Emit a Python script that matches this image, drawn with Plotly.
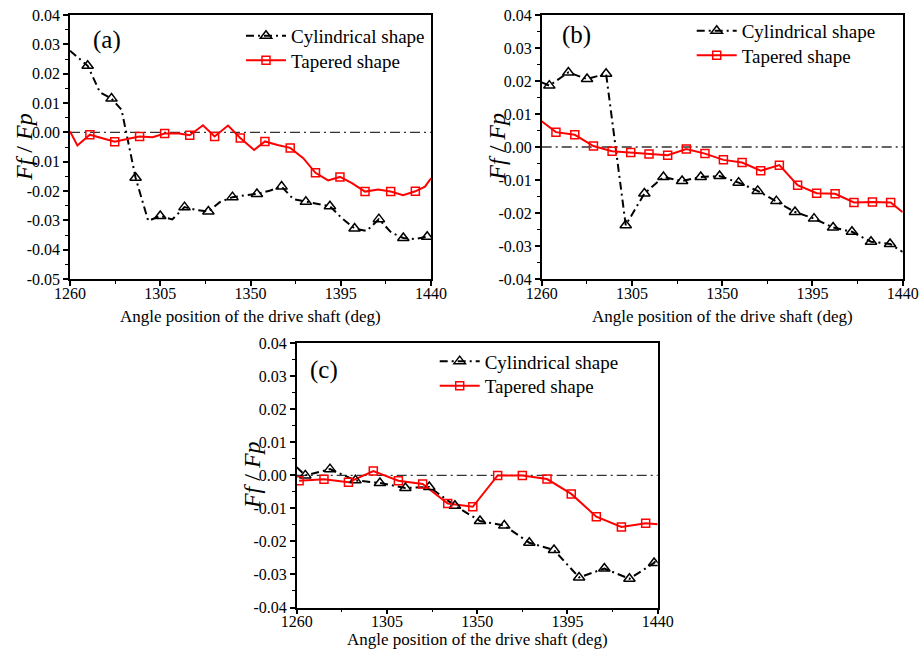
import plotly.graph_objects as go

# ---------------- data ----------------
# Panel (a)
a_cyl_x = [1260, 1268.8, 1274.9, 1280.7, 1285.7, 1292.7, 1299.0, 1305.0, 1311.0, 1317.1,
           1323.1, 1329.0, 1334.7, 1341.0, 1347.2, 1353.2, 1359.5, 1365.5, 1371.4, 1377.6,
           1383.8, 1389.6, 1395.6, 1401.9, 1407.9, 1414.0, 1420.2, 1426.2, 1432.0, 1438.1]
a_cyl_y = [0.0278, 0.0227, 0.0137, 0.0115, 0.0077, -0.0155, -0.0302, -0.0285, -0.0297, -0.0255,
           -0.0265, -0.0270, -0.0238, -0.0221, -0.0215, -0.0210, -0.0199, -0.0185, -0.0228, -0.0237,
           -0.0244, -0.0252, -0.0293, -0.0328, -0.0336, -0.0296, -0.0342, -0.0360, -0.0364, -0.0356]
a_tap_x = [1260, 1263.7, 1269.9, 1276.1, 1282.3, 1288.5, 1294.7, 1301.2, 1307.2, 1313.5,
           1319.7, 1326.3, 1332.1, 1338.8, 1344.9, 1351.8, 1357.2, 1363.5, 1369.8, 1376.3,
           1382.4, 1388.7, 1394.6, 1400.6, 1407.1, 1413.6, 1419.9, 1426.1, 1432.2, 1437.0, 1440]
a_tap_y = [0.0003, -0.0045, -0.0008, -0.0020, -0.0032, -0.0023, -0.0014, -0.0017, -0.0004, -0.0003,
           -0.0010, 0.0024, -0.0014, 0.0023, -0.0019, -0.0060, -0.0031, -0.0043, -0.0053, -0.0088,
           -0.0138, -0.0164, -0.0152, -0.0173, -0.0202, -0.0195, -0.0202, -0.0214, -0.0201, -0.0185, -0.0157]

# Panel (b)
b_cyl_x = [1260, 1263.8, 1273.3, 1282.6, 1292.1, 1301.9, 1311.2, 1320.7, 1330.0, 1339.3, 1348.7,
           1358.2, 1367.7, 1377.0, 1386.3, 1395.8, 1405.3, 1414.7, 1424.2, 1433.7, 1440]
b_cyl_y = [0.0196, 0.0186, 0.0226, 0.0206, 0.0222, -0.0237, -0.0141, -0.0091, -0.0103, -0.0091, -0.0088,
           -0.0108, -0.0133, -0.0164, -0.0197, -0.0217, -0.0244, -0.0257, -0.0287, -0.0294, -0.0318]
b_tap_x = [1260, 1267.1, 1276.5, 1285.8, 1295.1, 1304.4, 1313.5, 1322.8, 1332.1, 1341.4, 1350.6,
           1359.9, 1369.2, 1378.5, 1387.6, 1397.1, 1406.3, 1415.7, 1424.9, 1434.0, 1440]
b_tap_y = [0.0078, 0.0045, 0.0037, 0.0003, -0.0013, -0.0017, -0.0021, -0.0025, -0.0006, -0.0020, -0.0039,
           -0.0047, -0.0072, -0.0055, -0.0116, -0.0140, -0.0142, -0.0168, -0.0167, -0.0168, -0.0198]

# Panel (c)
c_cyl_x = [1260, 1264.3, 1276.6, 1289.3, 1301.5, 1314.2, 1326.1, 1338.9, 1351.4, 1363.5, 1376.0,
           1388.3, 1400.8, 1413.4, 1425.9, 1438.2, 1440]
c_cyl_y = [0.0025, 0.0000, 0.0019, -0.0015, -0.0023, -0.0038, -0.0035, -0.0092, -0.0138, -0.0152, -0.0204,
           -0.0226, -0.0309, -0.0282, -0.0313, -0.0265, -0.0250]
c_tap_x = [1261.2, 1273.6, 1285.8, 1298.2, 1310.7, 1322.8, 1335.3, 1347.8, 1360.2, 1372.5,
           1384.8, 1396.9, 1409.4, 1421.9, 1434.0, 1440]
c_tap_y = [-0.0016, -0.0012, -0.0021, 0.0013, -0.0016, -0.0026, -0.0085, -0.0095, 0.0000, 0.0000,
           -0.0011, -0.0056, -0.0125, -0.0156, -0.0145, -0.0148]

series_names = ["Cylindrical shape", "Tapered shape"]
panel_labels = ["(a)", "(b)", "(c)"]
x_title = "Angle position of the drive shaft (deg)"
y_title = "<i>Ff</i> / <i>Fp</i>"

y_ticks_a = [-0.05, -0.04, -0.03, -0.02, -0.01, 0.00, 0.01, 0.02, 0.03, 0.04]
y_ticks_bc = [-0.04, -0.03, -0.02, -0.01, 0.00, 0.01, 0.02, 0.03, 0.04]

# ---------------- styles ----------------
FONT = "Liberation Serif"
BLACK = "black"
RED = "#ff0000"
cyl_line = dict(color=BLACK, width=2, dash="8px,4px,2px,4px")
tap_line = dict(color=RED, width=2)
cyl_marker = dict(symbol="triangle-up-open", size=10, color=BLACK, line=dict(width=1.5, color=BLACK))
tap_marker = dict(symbol="square-open", size=8, color=RED, line=dict(width=1.5, color=RED))

panels = [
    dict(cx=a_cyl_x, cy=a_cyl_y, tx=a_tap_x, ty=a_tap_y,
         cm=slice(1, None, 2), tm=slice(2, 29, 2)),
    dict(cx=b_cyl_x, cy=b_cyl_y, tx=b_tap_x, ty=b_tap_y,
         cm=slice(1, -1), tm=slice(1, -1)),
    dict(cx=c_cyl_x, cy=c_cyl_y, tx=c_tap_x, ty=c_tap_y,
         cm=slice(1, -1), tm=slice(0, -1)),
]

W, H = 920, 650
# plot areas in pixels (left, top, right, bottom)
areas = [(70, 15, 431, 279), (541.7, 15, 902.7, 279), (296.7, 343.3, 657.7, 607.5)]
yranges = [(-0.05, 0.04), (-0.04, 0.04), (-0.04, 0.04)]
yticks = [y_ticks_a, y_ticks_bc, y_ticks_bc]
# per-panel placements in px relative to plot area (left/top)
label_pos = [(21, 25), (18.5, 20), (11.5, 27)]
legend_text_pos = [(222, 22), (201, 17), (189, 19)]   # text start x, first row centre y
legend_row_gap = 24.5
xtitle_off = [37, 37, 32]
ytitle_off = [-46, -45, -44]

fig = go.Figure()

for i, p in enumerate(panels):
    xa = "x" if i == 0 else f"x{i+1}"
    ya = "y" if i == 0 else f"y{i+1}"
    lg1 = "legend" if i == 0 else f"legend{2 * i + 1}"
    lg2 = f"legend{2 * i + 2}"
    fig.add_trace(go.Scatter(x=p["cx"], y=p["cy"], mode="lines", line=cyl_line,
                             xaxis=xa, yaxis=ya, showlegend=False, hoverinfo="skip"))
    fig.add_trace(go.Scatter(x=p["tx"], y=p["ty"], mode="lines", line=tap_line,
                             xaxis=xa, yaxis=ya, showlegend=False, hoverinfo="skip"))
    fig.add_trace(go.Scatter(x=p["cx"][p["cm"]], y=p["cy"][p["cm"]], mode="markers",
                             marker=cyl_marker, xaxis=xa, yaxis=ya, showlegend=False))
    fig.add_trace(go.Scatter(x=p["tx"][p["tm"]], y=p["ty"][p["tm"]], mode="markers",
                             marker=tap_marker, xaxis=xa, yaxis=ya, showlegend=False))
    fig.add_trace(go.Scatter(x=[None], y=[None], mode="lines+markers", name=series_names[0],
                             line=cyl_line, marker=cyl_marker, xaxis=xa, yaxis=ya, legend=lg1))
    fig.add_trace(go.Scatter(x=[None], y=[None], mode="lines+markers", name=series_names[1],
                             line=tap_line, marker=tap_marker, xaxis=xa, yaxis=ya, legend=lg2))

axis_common = dict(
    showline=True, linecolor=BLACK, linewidth=1.5, mirror=True,
    ticks="outside", ticklen=5, tickwidth=1.5, tickcolor=BLACK,
    showgrid=False, zeroline=False, automargin=False,
    tickfont=dict(family=FONT, size=16, color=BLACK),
)

layout = dict(width=W, height=H, margin=dict(l=0, r=0, t=0, b=0, autoexpand=False),
              paper_bgcolor="white", plot_bgcolor="white", showlegend=True)
shapes = []
annotations = []
for i, (l, t, r, b) in enumerate(areas):
    xk = "xaxis" if i == 0 else f"xaxis{i+1}"
    yk = "yaxis" if i == 0 else f"yaxis{i+1}"
    xa = "x" if i == 0 else f"x{i+1}"
    ya = "y" if i == 0 else f"y{i+1}"
    layout[xk] = dict(axis_common, domain=[l / W, r / W], anchor=ya, range=[1260, 1440],
                      tick0=1260, dtick=45, ticklabelstandoff=-6,
                      minor=dict(ticks="outside", ticklen=3, tickwidth=1.2, tickcolor=BLACK,
                                 tickmode="linear", tick0=1260, dtick=22.5))
    layout[yk] = dict(axis_common, domain=[1 - b / H, 1 - t / H], anchor=xa,
                      range=list(yranges[i]),
                      tickmode="array", tickvals=yticks[i],
                      ticktext=[f"{v:.2f}".replace("-0.00", "0.00") for v in yticks[i]],
                      minor=dict(ticks="outside", ticklen=3, tickwidth=1.2, tickcolor=BLACK,
                                 tickmode="linear", tick0=0, dtick=0.005))
    shapes.append(dict(type="line", xref=f"{xa} domain", yref=ya, x0=0, x1=1, y0=0, y1=0,
                       line=dict(color="#333333", width=1.3, dash="10px,4px,2px,4px"), layer="below"))
    # panel label
    lx, ly = label_pos[i]
    annotations.append(dict(text=panel_labels[i], xref="paper", yref="paper",
                            x=(l + lx) / W, y=1 - (t + ly) / H, xanchor="left", yanchor="middle",
                            showarrow=False, font=dict(family=FONT, size=25, color=BLACK)))
    # axis titles
    annotations.append(dict(text=x_title, xref="paper", yref="paper",
                            x=(l + r) / 2 / W, y=1 - (b + xtitle_off[i]) / H,
                            xanchor="center", yanchor="middle", showarrow=False,
                            font=dict(family=FONT, size=17, color=BLACK)))
    annotations.append(dict(text=y_title, xref="paper", yref="paper", textangle=-90,
                            x=(l + ytitle_off[i]) / W, y=1 - (t + b) / 2 / H,
                            xanchor="center", yanchor="middle", showarrow=False,
                            font=dict(family=FONT, size=24, color=BLACK)))
    # legends (one per entry, to control row spacing)
    tx, ty = legend_text_pos[i]
    for k in range(2):
        lgk = ("legend" if i == 0 else f"legend{2 * i + 1}") if k == 0 else f"legend{2 * i + 2}"
        layout[lgk] = dict(x=(l + tx - 51) / W, y=1 - (t + ty + k * legend_row_gap - 20) / H,
                           xanchor="left", yanchor="top",
                           bgcolor="rgba(0,0,0,0)", borderwidth=0,
                           font=dict(family=FONT, size=19, color=BLACK), itemwidth=40)

layout["shapes"] = shapes
layout["annotations"] = annotations
fig.update_layout(**layout)

fig.write_html("out.html")
